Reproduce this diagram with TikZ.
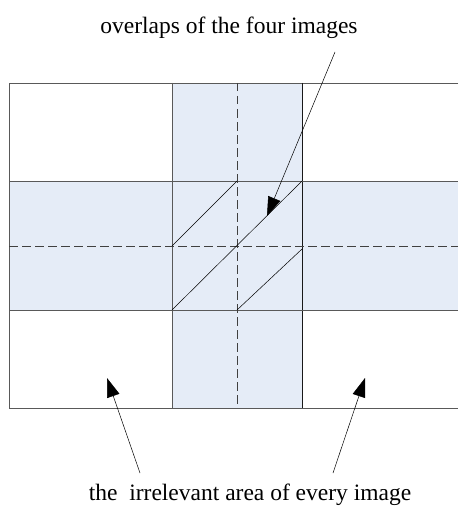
\documentclass[tikz,border=0pt]{standalone}
\usepackage{fontspec}
\setmainfont{Liberation Serif}
\usetikzlibrary{arrows.meta,positioning,calc}
\definecolor{bandblue}{RGB}{229,236,247}

\begin{document}
\begin{tikzpicture}[x=1pt,y=-1pt,
  grid/.style={draw=black!65,line width=0.9pt},
  axis/.style={draw=black!75,line width=0.6pt,dash pattern=on 8.5pt off 4.5pt},
  hatch/.style={draw=black,line width=0.5pt},
  pointer/.style={draw=black,line width=0.5pt,-{Triangle[length=19pt,width=13pt]}},
  label/.style={font=\fontsize{23.5}{26}\selectfont,inner sep=0pt}]
\useasboundingbox (0,0) rectangle (458,516);
% overlap bands
\fill[bandblue] (172,83) rectangle (302,408);
\fill[bandblue] (9,181) rectangle (458,310);
% outer frame (cut at the right edge)
\draw[grid] (458,83) -- (9,83) -- (9,408) -- (458,408);
\draw[grid] (172,83) -- (172,408);
\draw[grid,draw=black!90] (302,83) -- (302,408);
\draw[grid] (9,181) -- (458,181);
\draw[grid] (9,310) -- (458,310);
% centre lines
\draw[axis] (237,83) -- (237,408);
\draw[axis] (9,246) -- (458,246);
% hatching of the overlap
\draw[hatch] (172,246) -- (237,181);
\draw[hatch] (172,310) -- (302,181);
\draw[hatch] (237,310) -- (302,249);
% labels
\node[label] (overlap) at (229,28) {overlaps of the four images};
\node[label] (irrel) at (250,495) {the\ \ irrelevant area of every image};
\coordinate (tipA) at (267,216);
\coordinate (tipB) at (107,378);
\coordinate (tipC) at (365,378);
\draw[pointer] (335,52) -- (tipA);
\draw[pointer] (140,473) -- (tipB);
\draw[pointer] (333,473) -- (tipC);
\end{tikzpicture}
\end{document}
